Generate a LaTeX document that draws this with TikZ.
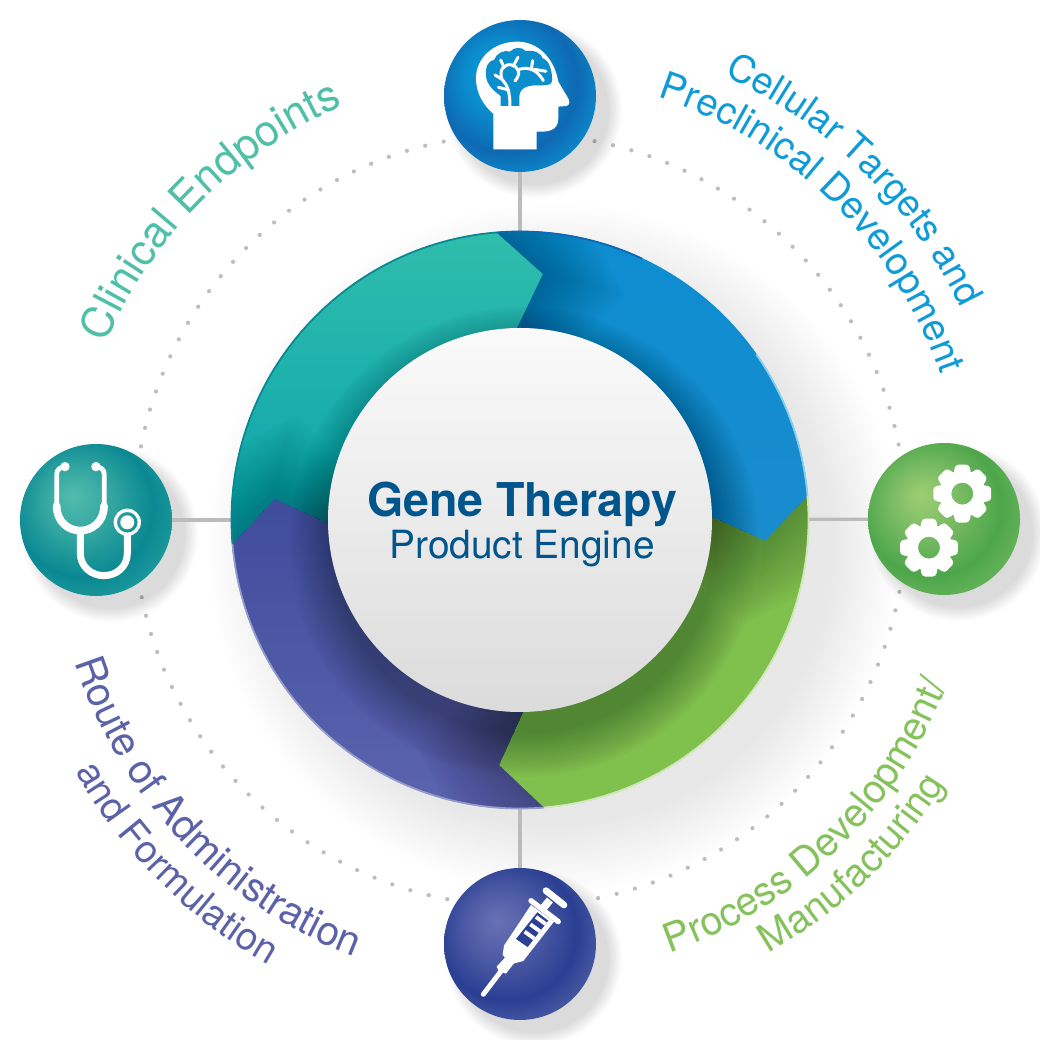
\documentclass[tikz,border=0pt]{standalone}
\usepackage{fontspec}
\setmainfont{TeX Gyre Heros}
\usetikzlibrary{decorations.text, calc}

\definecolor{tealtxt}{HTML}{4FBFA8}
\definecolor{bluetxt}{HTML}{0E9BD8}
\definecolor{greentxt}{HTML}{86C25C}
\definecolor{purpletxt}{HTML}{5B62A8}
\definecolor{titletxt}{HTML}{00558C}
\definecolor{spokegray}{HTML}{BBBBBB}
\definecolor{dotgray}{HTML}{BDBDBD}

\definecolor{bluea}{HTML}{0C9ED8}
\definecolor{blueb}{HTML}{0A8CCD}
\definecolor{bluec}{HTML}{0E69B2}
\definecolor{blued}{HTML}{0C87C8}
\definecolor{teala}{HTML}{54BCAE}
\definecolor{tealb}{HTML}{30A4A0}
\definecolor{tealc}{HTML}{0A8892}
\definecolor{teald}{HTML}{1C989C}
\definecolor{greena}{HTML}{A0CE74}
\definecolor{greenb}{HTML}{76BA62}
\definecolor{greenc}{HTML}{4EA64A}
\definecolor{greend}{HTML}{64B258}
\definecolor{purplea}{HTML}{6871B4}
\definecolor{purpleb}{HTML}{4C5AA4}
\definecolor{purplec}{HTML}{2A3E92}
\definecolor{purpled}{HTML}{4858A2}

\definecolor{ringblue}{HTML}{0C8DD0}
\definecolor{ringblueb}{HTML}{1A8CCE}
\definecolor{ringgreen}{HTML}{80C04C}
\definecolor{ringpurpletop}{HTML}{3F4C9C}
\definecolor{ringpurplebot}{HTML}{5C65AF}
\definecolor{ringtealtop}{HTML}{2FBDAC}
\definecolor{ringtealbot}{HTML}{0BA2AC}

\pgfdeclareradialshading{ballblue}{\pgfpoint{-8bp}{8bp}}{color(0bp)=(bluea); color(12bp)=(blueb); color(23bp)=(bluec); color(30bp)=(blued); color(50bp)=(blued)}
\pgfdeclareradialshading{ballteal}{\pgfpoint{-8bp}{8bp}}{color(0bp)=(teala); color(12bp)=(tealb); color(23bp)=(tealc); color(30bp)=(teald); color(50bp)=(teald)}
\pgfdeclareradialshading{ballgreen}{\pgfpoint{-8bp}{8bp}}{color(0bp)=(greena); color(12bp)=(greenb); color(23bp)=(greenc); color(30bp)=(greend); color(50bp)=(greend)}
\pgfdeclareradialshading{ballpurple}{\pgfpoint{-8bp}{8bp}}{color(0bp)=(purplea); color(12bp)=(purpleb); color(23bp)=(purplec); color(30bp)=(purpled); color(50bp)=(purpled)}

\tikzset{
    ball/.style={circle, minimum size=1.52cm, inner sep=0pt, outer sep=0pt},
    spoke/.style={draw=spokegray, line width=0.9pt},
    vein/.style={draw=white, line width=0.85pt, line cap=round, line join=round},
}

\newcommand{\segpath}[1]{(#1+94.8:2.89) arc[start angle=#1+94.8, delta angle=-90, radius=2.89] -- (#1-5.3:2.47) -- (#1+0.9:1.92) arc[start angle=#1+0.9, delta angle=90, radius=1.92] -- (#1+85.1:2.46) -- cycle}

% previous segment angle, own angle, top colour, bottom colour
\newcommand{\ringseg}[4]{
    \begin{scope}
        \clip \segpath{#2};
        \shade[top color=#3, bottom color=#4] \segpath{#2};
        \foreach \s in {1,...,20}
            \fill[black, opacity=0.011] \segpath{#1-\s};
        \foreach \s in {0,...,24}
            \fill[black, opacity=0.012] (0.04,-0.22) circle ({1.92+0.018*\s});
    \end{scope}
}

\newcommand{\arclabel}[6]{
    \path[decorate, decoration={text along path, text align=center, text={|\fontsize{#6pt}{15pt}\selectfont\color{#1}|#2}}] (#3:#4) arc[start angle=#3, end angle=#5, radius=#4];
}

\newcommand{\gearicon}[2]{
    \foreach \a in {0,45,...,315}
        \fill[white, rounded corners=0.8pt] ($(#1,#2)+(\a-24:66)$) -- ($(#1,#2)+(\a-13:89)$) -- ($(#1,#2)+(\a+13:89)$) -- ($(#1,#2)+(\a+24:66)$) -- cycle;
    \fill[white, even odd rule] (#1,#2) circle (70) (#1,#2) circle (33);
}

\begin{document}
\begin{tikzpicture}
    \useasboundingbox (-5.2,-5.2) rectangle (5.2,5.2);

    \foreach \s in {0,...,22}
        \fill[black, opacity=0.0045] (0.34,-0.28) circle ({3.45-0.03*\s});

    \draw[dotgray, line width=1.2pt, line cap=round, dash pattern=on 0pt off 5.4pt] (0,0) circle (3.86);

    \node[circle, minimum size=5.78cm, inner sep=0pt, outer sep=0pt] (engine) at (0,0) {};

    \foreach \x/\y in {0/4.24, -4.24/0, 4.24/0.01, 0/-4.24}
        \foreach \s in {0,...,11}
            \fill[black, opacity=0.01] (\x+0.14,\y-0.14) circle ({0.88-0.012*\s});

    \node[ball, shading=ballblue] (brain) at (0,4.24) {};
    \node[ball, shading=ballteal] (scope) at (-4.24,0) {};
    \node[ball, shading=ballgreen] (gears) at (4.24,0.01) {};
    \node[ball, shading=ballpurple] (syringe) at (0,-4.24) {};

    \draw[spoke] (brain) -- (engine);
    \draw[spoke] (scope) -- (engine);
    \draw[spoke] (gears) -- (engine);
    \draw[spoke] (syringe) -- (engine);

    \fill[black!55] (0,0) circle (2.88);
    \ringseg{90}{0}{ringblue}{ringblueb}
    \ringseg{0}{-90}{ringgreen}{ringgreen}
    \ringseg{-90}{-180}{ringpurpletop}{ringpurplebot}
    \ringseg{-180}{90}{ringtealtop}{ringtealbot}

    \draw[tealc, line width=0.5pt] (184.8:2.885) arc[start angle=184.8, delta angle=-90, radius=2.885];
    \draw[bluea!50!white, line width=0.5pt] (35:2.885) arc[start angle=35, end angle=4.8, radius=2.885];
    \draw[bluec, line width=0.5pt] (94.8:2.885) arc[start angle=94.8, end angle=65, radius=2.885];
    \draw[greena!50!white, line width=0.5pt] (4.8:2.885) arc[start angle=4.8, end angle=-85.2, radius=2.885];
    \draw[purplea!70!white, line width=0.5pt] (-85.2:2.885) arc[start angle=-85.2, end angle=-175.2, radius=2.885];

    \node[circle, minimum size=3.84cm, inner sep=0pt, top color=white!98!black, bottom color=black!14] (core) at (0,0) {};
    \node[anchor=base, text=titletxt, font=\fontsize{13.25pt}{15pt}\selectfont\bfseries] (title) at (0.02,0.03) {Gene Therapy};
    \node[anchor=base, text=titletxt, font=\fontsize{11.05pt}{13pt}\selectfont] (subtitle) at (0.02,-0.39) {Product Engine};

    \arclabel{tealtxt}{Clinical Endpoints}{170}{4.50}{100}{12.3}
    \arclabel{bluetxt}{Cellular Targets and}{80}{4.89}{11}{10.7}
    \arclabel{bluetxt}{Preclinical Development}{85}{4.45}{6}{10.9}
    \arclabel{greentxt}{Process Development/}{-85}{4.58}{-7}{11.3}
    \arclabel{greentxt}{Manufacturing}{-70}{5.00}{-22}{11.1}
    \arclabel{purpletxt}{Route of Administration}{190}{4.67}{257}{11.5}
    \arclabel{purpletxt}{and Formulation}{195}{5.11}{255}{10.9}

    % brain
    \begin{scope}[shift={(-0.9,5.1)}, x=0.03333mm, y=-0.03333mm]
        \fill[white] (190,418) -- (320,418) -- (320,365) .. controls (350,366) and (385,365) .. (385,325) -- (385,290) -- (410,288) .. controls (420,285) and (420,272) .. (414,264) -- (385,215) .. controls (372,140) and (320,95) .. (262,95) .. controls (190,95) and (138,145) .. (138,205) .. controls (138,250) and (160,285) .. (190,312) -- cycle;
        \fill[bluea!70!bluec] (212,288) -- (212,258) .. controls (195,245) and (168,225) .. (168,195) .. controls (165,170) and (178,150) .. (192,150) .. controls (198,130) and (225,118) .. (240,125) .. controls (252,110) and (278,110) .. (288,124) .. controls (310,118) and (335,130) .. (338,145) .. controls (358,150) and (368,185) .. (366,215) .. controls (362,228) and (345,226) .. (322,226) .. controls (290,226) and (268,235) .. (268,262) -- (268,288) -- cycle;
        \draw[vein] (240,288) .. controls (240,245) and (232,225) .. (216,208) .. controls (205,178) and (225,160) .. (245,165) .. controls (265,170) and (275,190) .. (255,213);
        \draw[vein] (236,240) -- (205,232);
        \draw[vein] (216,208) -- (195,195);
        \draw[vein] (222,172) -- (212,150);
        \draw[vein] (250,168) -- (264,142);
        \draw[vein] (268,178) .. controls (300,168) and (325,185) .. (340,212);
        \draw[vein] (312,178) -- (348,184);
        \draw[vein] (305,172) -- (308,152);
    \end{scope}

    % stethoscope
    \begin{scope}[shift={(-5.1,0.9)}, x=0.03333mm, y=-0.03333mm]
        \fill[white] (165,110) circle (14) (258,110) circle (14);
        \draw[white, line width=1.35pt] (140,220) -- (140,135) .. controls (140,118) and (150,112) .. (165,110);
        \draw[white, line width=1.35pt] (283,220) -- (283,135) .. controls (283,118) and (273,112) .. (258,110);
        \draw[white, line width=2.2pt, line cap=round] (140,228) .. controls (140,275) and (175,302) .. (211,302) .. controls (247,302) and (282,275) .. (282,228);
        \draw[white, line width=2pt] (211,305) -- (211,370) .. controls (211,410) and (245,437) .. (281,437) .. controls (320,437) and (352,410) .. (352,370) -- (352,310);
        \fill[white, even odd rule] (352,277) circle (41) (352,277) circle (31);
        \fill[white] (352,277) circle (21);
    \end{scope}

    % gears
    \begin{scope}[shift={(3.4,0.9)}, x=0.03333mm, y=-0.03333mm]
        \gearicon{307}{191}
        \gearicon{207}{353}
    \end{scope}

    % syringe
    \begin{scope}[shift={(-0.9,-3.35)}, x=0.03333mm, y=-0.03333mm]
        \draw[white, line width=1.4pt, line cap=round] (160,418) -- (218,342);
        \draw[white, line width=1.9pt, line cap=round] (348,107) -- (402,150);
        \draw[white, line width=2.2pt] (360,135) -- (335,165);
        \draw[white, line width=1.5pt, line cap=round] (303,137) -- (385,200);
        \fill[white] (303,150) -- (372,200) -- (280,318) -- (243,328) -- (218,300) -- (222,272) -- cycle;
        \fill[white] (225,308) -- (200,335) -- (206,348) -- (228,356) -- (252,325) -- cycle;
        \fill[purplec!90!purpleb] (322,172) -- (355,197) -- (293,276) -- (258,252) -- cycle;
        \draw[white, line width=1.1pt] (347,207) -- (318,186);
        \draw[white, line width=1.1pt] (330,229) -- (301,208);
        \draw[white, line width=1.1pt] (313,251) -- (284,230);
    \end{scope}
\end{tikzpicture}
\end{document}
